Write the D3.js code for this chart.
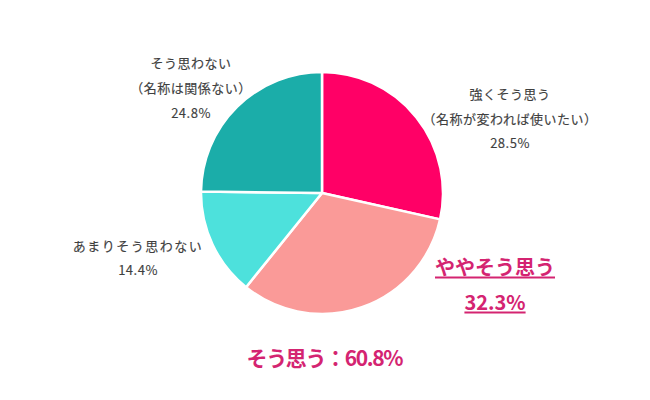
<!DOCTYPE html>
<html>
<head>
<meta charset="utf-8">
<script src="https://cdn.jsdelivr.net/npm/d3@7"></script>
<style>
  html, body { margin: 0; padding: 0; background: #fff; }
  svg { display: block; }
</style>
</head>
<body>
<svg id="chart" width="650" height="400"></svg>
<script>
const categories = ["強くそう思う", "ややそう思う", "あまりそう思わない", "そう思わない"];
const values = [28.5, 32.3, 14.4, 24.8];
const colors = ["#FF0066", "#FA9A98", "#4DE1DC", "#1BADA9"];
const subLabels = ["（名称が変われば使いたい）", "", "", "（名称は関係ない）"];
const summaryLabel = "そう思う：60.8%";

const svg = d3.select("#chart");
const cx = 322, cy = 193, r = 121;

const pie = d3.pie().sort(null).value(d => d.v);
const arcs = pie(values.map((v, i) => ({ v, i })));
const arc = d3.arc().innerRadius(0).outerRadius(r);

const g = svg.append("g").attr("transform", `translate(${cx},${cy})`);
g.selectAll("path").data(arcs).join("path")
  .attr("d", arc)
  .attr("fill", d => colors[d.data.i])
  .attr("stroke", "#fff")
  .attr("stroke-width", 2.5)
  .attr("stroke-linejoin", "round");

const font = "'Noto Sans CJK JP', 'Noto Sans', sans-serif";
const fmt = v => d3.format(".1f")(v) + "%";

// plain labels
const plain = [
  { i: 0, x: 510, ys: [93, 118, 142] },
  { i: 3, x: 191, ys: [62, 87, 112] },
  { i: 2, x: 138, ys: [245, 269] }
];
plain.forEach(p => {
  const lines = [categories[p.i]];
  if (subLabels[p.i]) lines.push(subLabels[p.i]);
  lines.push(fmt(values[p.i]));
  lines.forEach((t, k) => {
    svg.append("text")
      .attr("x", p.x).attr("y", p.ys[k])
      .attr("text-anchor", "middle")
      .attr("dominant-baseline", "central")
      .attr("font-family", font)
      .attr("font-size", 13)
      .attr("letter-spacing", k === 0 && p.i === 2 ? 1.5 : 0.5)
      .attr("fill", "#3f3f3f")
      .attr("stroke", "#3f3f3f")
      .attr("stroke-width", 0.15)
      .text(t);
  });
});

// highlighted label (ややそう思う)
const hi = "#D42471";
const hlLines = [categories[1], fmt(values[1])];
const hlY = [266, 301];
hlLines.forEach((t, k) => {
  const txt = svg.append("text")
    .attr("x", 495).attr("y", hlY[k])
    .attr("text-anchor", "middle")
    .attr("dominant-baseline", "central")
    .attr("font-family", font)
    .attr("font-size", 20)
    .attr("font-weight", "bold")
    .attr("fill", hi)
    .text(t);
  const bb = txt.node().getBBox();
  svg.append("line")
    .attr("x1", bb.x).attr("x2", bb.x + bb.width)
    .attr("y1", hlY[k] + 11.5).attr("y2", hlY[k] + 11.5)
    .attr("stroke", hi).attr("stroke-width", 2);
});

svg.append("text")
  .attr("x", 325).attr("y", 357)
  .attr("text-anchor", "middle")
  .attr("dominant-baseline", "central")
  .attr("font-family", font)
  .attr("font-size", 21)
  .attr("font-weight", "bold")
  .attr("fill", hi)
  .attr("textLength", 157)
  .attr("lengthAdjust", "spacing")
  .text(summaryLabel);
</script>
</body>
</html>
